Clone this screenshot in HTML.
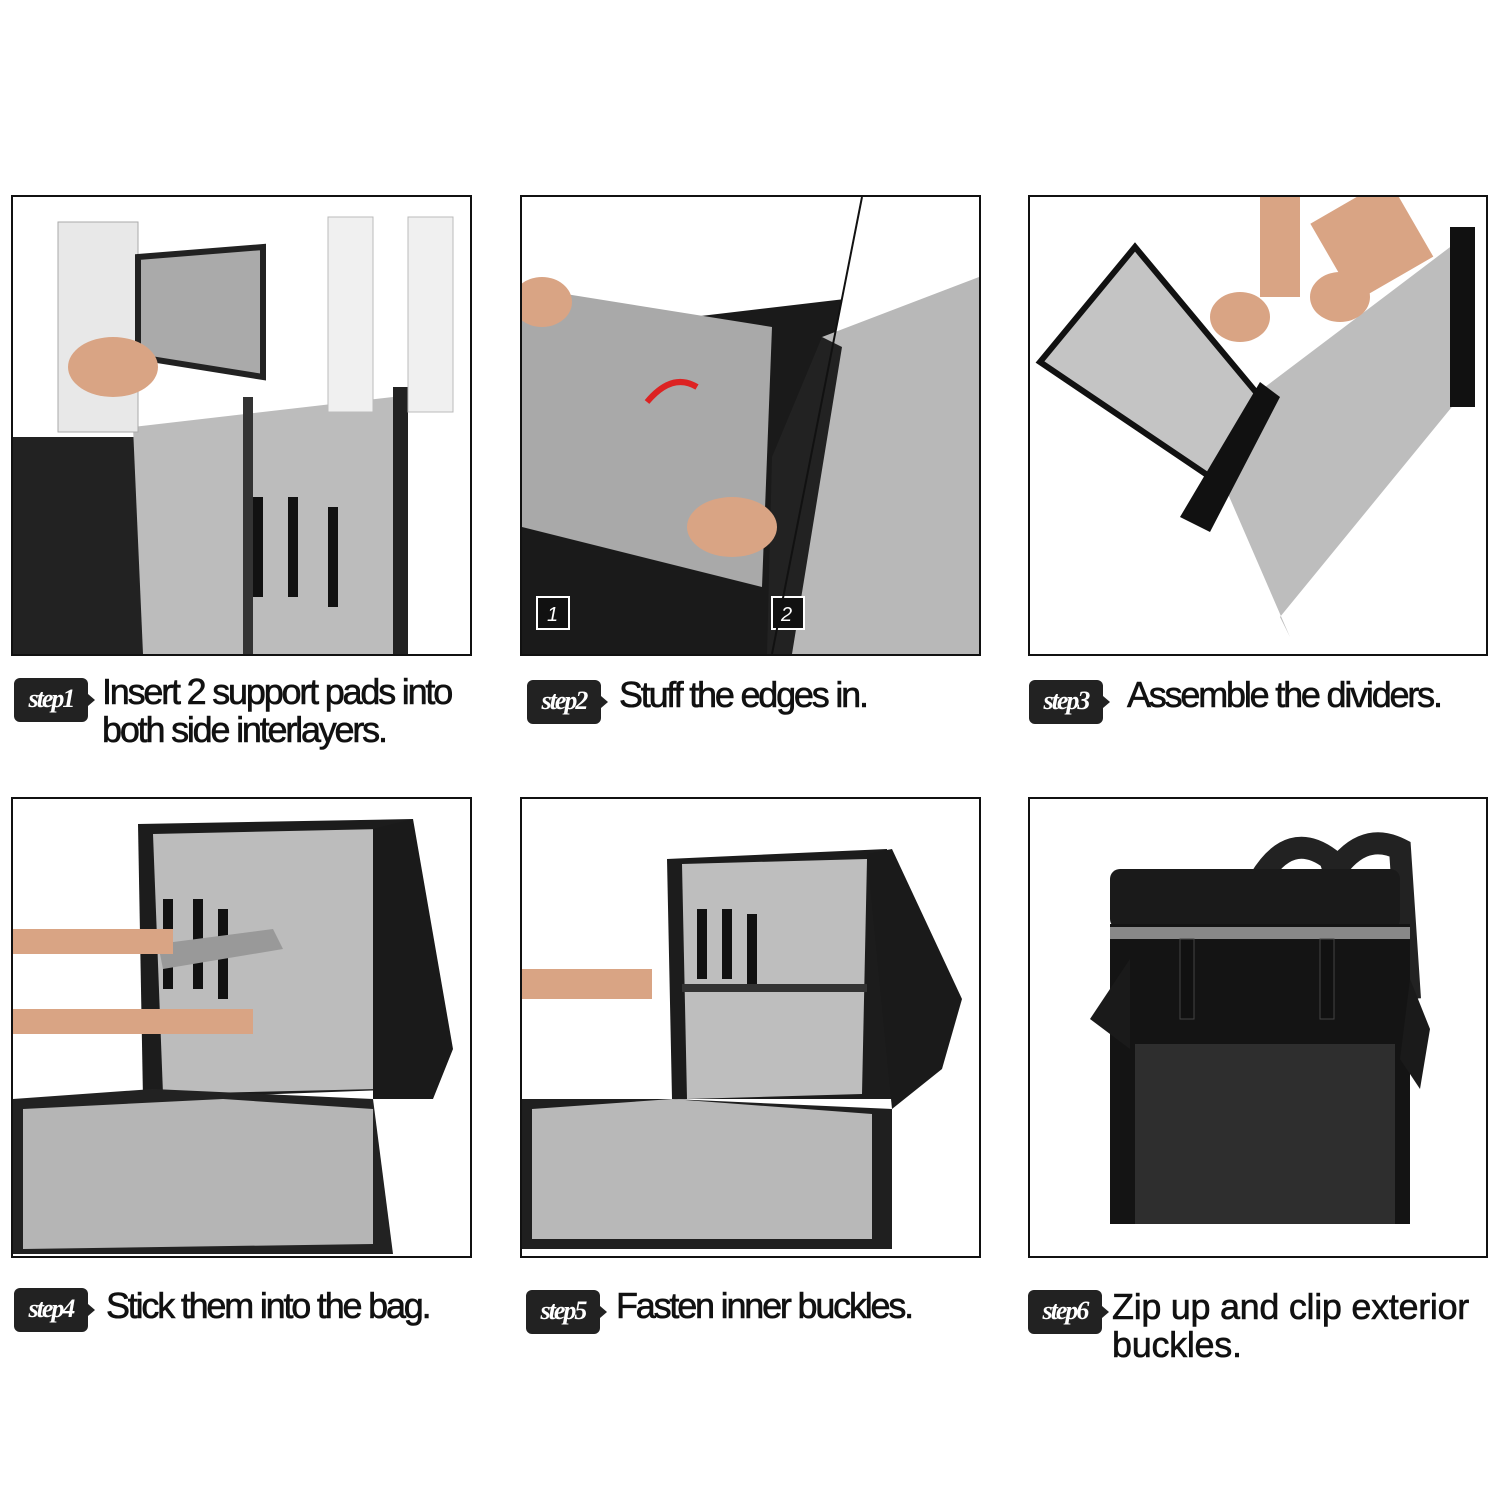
<!DOCTYPE html>
<html><head><meta charset="utf-8"><style>
body{margin:0;width:1500px;height:1500px;background:#fff;position:relative;overflow:hidden;font-family:"Liberation Sans",sans-serif}
.p{position:absolute;box-sizing:border-box;border:2px solid #111;background:#fff;overflow:hidden}
.b{position:absolute;background:#222;color:#fff;border-radius:6px;font:italic bold 26px "Liberation Serif",serif;width:74px;height:44px;line-height:42px;text-align:center;letter-spacing:-2px}
.b:after{content:"";position:absolute;right:-7px;top:16px;border-left:7px solid #222;border-top:6px solid transparent;border-bottom:6px solid transparent}
.t{position:absolute;font-size:36px;line-height:38px;color:#111;letter-spacing:-2.2px;white-space:nowrap;-webkit-text-stroke:0.6px #111}
</style></head><body>
<div class="p" style="left:11px;top:195px;width:461px;height:461px">
<svg width="457" height="457"><rect x="0" y="240" width="140" height="217" fill="#222"/><polygon points="120,230 380,200 380,457 130,457" fill="#bcbcbc"/><rect x="230" y="200" width="10" height="257" fill="#333"/><rect x="240" y="300" width="10" height="100" fill="#111"/><rect x="275" y="300" width="10" height="100" fill="#111"/><rect x="315" y="310" width="10" height="100" fill="#111"/><rect x="380" y="190" width="15" height="267" fill="#222"/><rect x="45" y="25" width="80" height="210" fill="#e8e8e8" stroke="#aaa"/><rect x="315" y="20" width="45" height="195" fill="#f0f0f0" stroke="#bbb"/><rect x="395" y="20" width="45" height="195" fill="#f0f0f0" stroke="#bbb"/><polygon points="125,60 250,50 250,180 125,160" fill="#aaa" stroke="#222" stroke-width="6"/><ellipse cx="100" cy="170" rx="45" ry="30" fill="#d9a484"/></svg></div>
<div class="p" style="left:520px;top:195px;width:461px;height:461px">
<svg width="457" height="457"><polygon points="0,0 340,0 250,457 0,457" fill="#fff"/><polygon points="0,140 340,100 250,457 0,457" fill="#1a1a1a"/><polygon points="0,90 250,130 240,390 0,330" fill="#a9a9a9"/><polygon points="340,0 457,0 457,457 250,457" fill="#fff"/><polygon points="300,140 457,80 457,457 250,457" fill="#b8b8b8"/><polygon points="250,260 300,140 320,150 270,457 245,457" fill="#222"/><ellipse cx="210" cy="330" rx="45" ry="30" fill="#d9a484"/><ellipse cx="20" cy="105" rx="30" ry="25" fill="#d9a484"/><path d="M125 205 Q150 175 175 190" stroke="#d22" stroke-width="6" fill="none"/><rect x="15" y="400" width="32" height="32" fill="#111" stroke="#fff" stroke-width="2"/><text x="25" y="424" fill="#fff" font-size="20" font-style="italic">1</text><rect x="250" y="400" width="32" height="32" fill="#111" stroke="#fff" stroke-width="2"/><text x="259" y="424" fill="#fff" font-size="20" font-style="italic">2</text><line x1="340" y1="0" x2="250" y2="457" stroke="#111" stroke-width="2"/></svg></div>
<div class="p" style="left:1028px;top:195px;width:460px;height:461px">
<svg width="456" height="457"><polygon points="10,165 105,50 230,200 195,290" fill="#c4c4c4" stroke="#111" stroke-width="6"/><polygon points="195,290 235,190 440,35 430,200 250,420 260,440" fill="#bdbdbd"/><rect x="420" y="30" width="25" height="180" fill="#111"/><polygon points="150,320 230,185 250,200 180,335" fill="#111"/><ellipse cx="210" cy="120" rx="30" ry="25" fill="#d9a484"/><ellipse cx="310" cy="100" rx="30" ry="25" fill="#d9a484"/><rect x="230" y="0" width="40" height="100" fill="#d9a484"/><rect x="300" y="0" width="90" height="90" fill="#d9a484" transform="rotate(-30 340 50)"/></svg></div>
<div class="p" style="left:11px;top:797px;width:461px;height:461px">
<svg width="457" height="457"><polygon points="125,25 400,20 400,290 130,300" fill="#1c1c1c"/><polygon points="140,35 370,30 365,290 150,295" fill="#bcbcbc"/><polygon points="0,300 140,290 360,300 380,455 0,455" fill="#222"/><polygon points="10,310 210,300 360,310 360,445 10,450" fill="#b5b5b5"/><polygon points="360,30 400,20 440,250 420,300 360,300" fill="#1a1a1a"/><rect x="150" y="100" width="10" height="90" fill="#111"/><rect x="180" y="100" width="10" height="90" fill="#111"/><rect x="205" y="110" width="10" height="90" fill="#111"/><polygon points="145,145 260,130 270,150 150,170" fill="#999"/><rect x="0" y="130" width="160" height="25" fill="#d9a484"/><rect x="0" y="210" width="240" height="25" fill="#d9a484"/></svg></div>
<div class="p" style="left:520px;top:797px;width:461px;height:461px">
<svg width="457" height="457"><polygon points="145,60 365,50 375,300 150,300" fill="#1c1c1c"/><polygon points="160,65 345,60 340,295 165,300" fill="#bebebe"/><rect x="160" y="185" width="185" height="8" fill="#333"/><polygon points="0,300 150,300 370,310 370,450 0,450" fill="#1f1f1f"/><polygon points="10,310 150,300 350,315 350,440 10,440" fill="#b8b8b8"/><polygon points="345,55 370,50 440,200 420,270 370,310" fill="#1a1a1a"/><rect x="175" y="110" width="10" height="70" fill="#111"/><rect x="200" y="110" width="10" height="70" fill="#111"/><rect x="225" y="115" width="10" height="70" fill="#111"/><rect x="0" y="170" width="130" height="30" fill="#d9a484"/></svg></div>
<div class="p" style="left:1028px;top:797px;width:460px;height:461px">
<svg width="456" height="457"><path d="M230 80 Q260 30 300 60 L310 90 M300 80 Q330 30 370 50 L380 200" stroke="#222" stroke-width="22" fill="none"/><rect x="80" y="70" width="290" height="60" rx="10" fill="#1a1a1a"/><rect x="80" y="125" width="300" height="300" fill="#141414"/><rect x="80" y="128" width="300" height="12" fill="#888"/><rect x="105" y="245" width="260" height="180" fill="#2e2e2e"/><polygon points="60,220 100,160 100,250" fill="#1a1a1a"/><polygon points="380,180 400,230 390,290 370,260" fill="#1a1a1a"/><rect x="150" y="140" width="14" height="80" fill="#111" stroke="#444"/><rect x="290" y="140" width="14" height="80" fill="#111" stroke="#444"/></svg></div>
<div class="b" style="left:14px;top:678px">step1</div><div class="t" style="left:102px;top:673px">Insert 2 support pads into<br>both side interlayers.</div>
<div class="b" style="left:527px;top:680px">step2</div><div class="t" style="left:619px;top:676px">Stuff the edges in.</div>
<div class="b" style="left:1029px;top:680px">step3</div><div class="t" style="left:1127px;top:676px">Assemble the dividers.</div>
<div class="b" style="left:14px;top:1288px">step4</div><div class="t" style="left:106px;top:1287px">Stick them into the bag.</div>
<div class="b" style="left:526px;top:1290px">step5</div><div class="t" style="left:616px;top:1287px">Fasten inner buckles.</div>
<div class="b" style="left:1028px;top:1290px">step6</div><div class="t" style="left:1112px;top:1288px;letter-spacing:-0.3px">Zip up and clip exterior<br>buckles.</div>
</body></html>
